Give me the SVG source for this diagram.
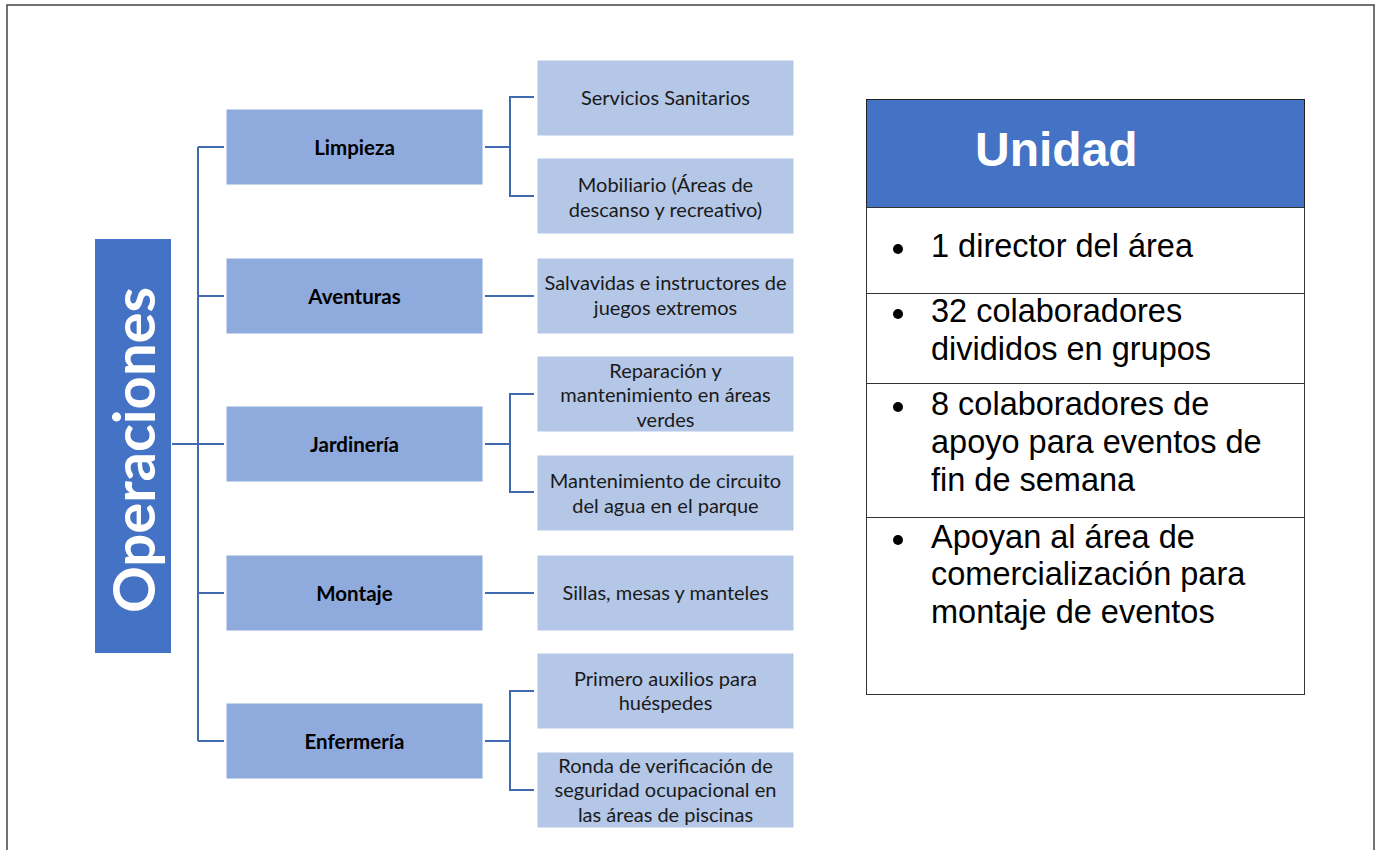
<svg xmlns="http://www.w3.org/2000/svg" width="1380" height="850" viewBox="0 0 1380 850">
<style>
.l0{fill:#4472C4}
.l1{fill:#8FAADC;stroke:#ffffff;stroke-width:1}
.l2{fill:#B4C7E7;stroke:#ffffff;stroke-width:1}
.t1{font-family:Lato,"Liberation Sans",sans-serif;font-weight:bold;font-size:20.5px;fill:#000;text-anchor:middle}
.t2{font-family:Lato,"Liberation Sans",sans-serif;font-size:20px;fill:#1a1a1a;text-anchor:middle}
.conn{fill:none;stroke:#4169B0;stroke-width:2}
.tb{font-family:"Liberation Sans",Arial,sans-serif;font-size:32.5px;fill:#000}
.cell{fill:#fff;stroke:#333;stroke-width:1}
</style>
<rect x="0" y="0" width="1380" height="850" fill="#ffffff"/>
<rect x="7" y="5" width="1367" height="870" fill="none" stroke="#444" stroke-width="1.5"/>

<g id="connectors">
<path class="conn" d="M172 444 H198 M198 147 V741 M198 147 H224 M198 296 H224 M198 444 H224 M198 593 H224 M198 741 H224"/>
<path class="conn" d="M485 147 H510 M534 97 H510 V196 H534"/>
<path class="conn" d="M485 296 H534"/>
<path class="conn" d="M485 444 H510 M534 394 H510 V492 H534"/>
<path class="conn" d="M485 593 H534"/>
<path class="conn" d="M485 741 H510 M534 691 H510 V790 H534"/>
</g>

<g id="operaciones">
<rect class="l0" x="95" y="239" width="76" height="414"/>
<text transform="translate(155,450) rotate(-90)" text-anchor="middle" font-family="Lato,'Liberation Sans',sans-serif" font-weight="bold" font-size="58" fill="#ffffff">Operaciones</text>
</g>

<g id="limpieza"><rect class="l1" x="226" y="109" width="257" height="76"/><text class="t1" x="354.5" y="154.5">Limpieza</text></g>
<g id="aventuras"><rect class="l1" x="226" y="258" width="257" height="76"/><text class="t1" x="354.5" y="303.5">Aventuras</text></g>
<g id="jardineria"><rect class="l1" x="226" y="406" width="257" height="76"/><text class="t1" x="354.5" y="451.5">Jardinería</text></g>
<g id="montaje"><rect class="l1" x="226" y="555" width="257" height="76"/><text class="t1" x="354.5" y="600.5">Montaje</text></g>
<g id="enfermeria"><rect class="l1" x="226" y="703" width="257" height="76"/><text class="t1" x="354.5" y="748.5">Enfermería</text></g>

<g id="servicios"><rect class="l2" x="537" y="60" width="257" height="76"/><text class="t2" x="665.5" y="105">Servicios Sanitarios</text></g>
<g id="mobiliario"><rect class="l2" x="537" y="158" width="257" height="76"/><text class="t2" x="665.5" y="192">Mobiliario (Áreas de</text><text class="t2" x="665.5" y="217">descanso y recreativo)</text></g>
<g id="salvavidas"><rect class="l2" x="537" y="258" width="257" height="76"/><text class="t2" x="665.5" y="290">Salvavidas e instructores de</text><text class="t2" x="665.5" y="315">juegos extremos</text></g>
<g id="reparacion"><rect class="l2" x="537" y="356" width="257" height="76"/><text class="t2" x="665.5" y="378">Reparación y</text><text class="t2" x="665.5" y="402">mantenimiento en áreas</text><text class="t2" x="665.5" y="427">verdes</text></g>
<g id="circuito"><rect class="l2" x="537" y="455" width="257" height="76"/><text class="t2" x="665.5" y="488">Mantenimiento de circuito</text><text class="t2" x="665.5" y="513">del agua en el parque</text></g>
<g id="sillas"><rect class="l2" x="537" y="555" width="257" height="76"/><text class="t2" x="665.5" y="600">Sillas, mesas y manteles</text></g>
<g id="auxilios"><rect class="l2" x="537" y="653" width="257" height="76"/><text class="t2" x="665.5" y="686">Primero auxilios para</text><text class="t2" x="665.5" y="710">huéspedes</text></g>
<g id="ronda"><rect class="l2" x="537" y="752" width="257" height="76"/><text class="t2" x="665.5" y="773">Ronda de verificación de</text><text class="t2" x="665.5" y="797">seguridad ocupacional en</text><text class="t2" x="665.5" y="822">las áreas de piscinas</text></g>

<g id="unidad">
<rect x="866.5" y="99.5" width="438" height="108" fill="#4472C4" stroke="#222" stroke-width="1"/>
<text x="975" y="166" font-family="'Liberation Sans',Arial,sans-serif" font-weight="bold" font-size="48" fill="#ffffff">Unidad</text>
<rect class="cell" x="866.5" y="207.5" width="438" height="86"/>
<rect class="cell" x="866.5" y="293.5" width="438" height="90"/>
<rect class="cell" x="866.5" y="383.5" width="438" height="134"/>
<rect class="cell" x="866.5" y="517.5" width="438" height="177"/>
<g fill="#000">
<circle cx="898" cy="249" r="5"/>
<circle cx="898" cy="314" r="5"/>
<circle cx="898" cy="407" r="5"/>
<circle cx="898" cy="540" r="5"/>
</g>
<text class="tb" x="931" y="257">1 director del área</text>
<text class="tb" x="931" y="322">32 colaboradores</text>
<text class="tb" x="931" y="360">divididos en grupos</text>
<text class="tb" x="931" y="415">8 colaboradores de</text>
<text class="tb" x="931" y="453">apoyo para eventos de</text>
<text class="tb" x="931" y="491">fin de semana</text>
<text class="tb" x="931" y="548">Apoyan al área de</text>
<text class="tb" x="931" y="585">comercialización para</text>
<text class="tb" x="931" y="623">montaje de eventos</text>
</g>
</svg>
